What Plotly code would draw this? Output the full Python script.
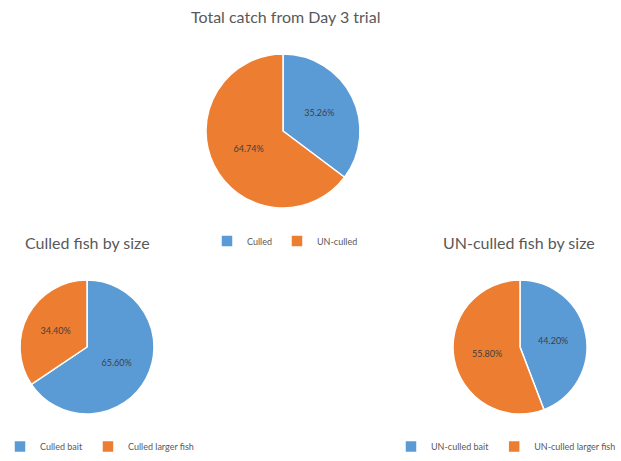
import plotly.graph_objects as go

# data
total_labels = ["Culled", "UN-culled"]
total_values = [35.26, 64.74]

culled_labels = ["Culled bait", "Culled larger fish"]
culled_values = [65.60, 34.40]

unculled_labels = ["UN-culled bait", "UN-culled larger fish"]
unculled_values = [44.20, 55.80]

colors = ["#5B9BD5", "#ED7D31"]
W, H = 621, 461
FONT = "Lato"
GREY = "#595959"


def px_dom(x0, x1, y0, y1):
    # pixel box -> paper domain
    return dict(x=[x0 / W, x1 / W], y=[1 - y1 / H, 1 - y0 / H])


def pie(labels, values, dom, legend):
    return go.Pie(labels=labels, values=values, domain=dom, legend=legend,
                  sort=False, direction="clockwise", rotation=0,
                  marker=dict(colors=colors, line=dict(color="white", width=1.5)),
                  texttemplate="%{percent:.2%}", textposition="inside",
                  insidetextorientation="horizontal",
                  insidetextfont=dict(size=9, color="#404040", family=FONT),
                  hoverinfo="label+percent")


fig = go.Figure()
fig.add_trace(pie(total_labels, total_values, px_dom(206, 360, 54, 208), "legend"))
fig.add_trace(pie(culled_labels, culled_values, px_dom(20, 154, 280, 414), "legend2"))
fig.add_trace(pie(unculled_labels, unculled_values, px_dom(453, 587, 280, 414), "legend3"))

leg = dict(orientation="h", font=dict(size=9, color=GREY, family=FONT),
           bgcolor="rgba(0,0,0,0)", itemwidth=30, tracegroupgap=0)


def title(text, x, y, size):
    return dict(text=text, x=x / W, y=1 - y / H, xref="paper", yref="paper",
                xanchor="center", yanchor="middle", showarrow=False,
                font=dict(size=size, color=GREY, family=FONT))


fig.update_layout(
    width=W, height=H, margin=dict(l=0, r=0, t=0, b=0),
    paper_bgcolor="white", plot_bgcolor="white",
    font=dict(family=FONT, color=GREY),
    legend=dict(leg, x=285 / W, y=1 - 241 / H, xanchor="center", yanchor="middle"),
    legend2=dict(leg, x=0, y=0, xanchor="left", yanchor="bottom"),
    legend3=dict(leg, x=1, y=0, xanchor="right", yanchor="bottom"),
    annotations=[
        title("Total catch from Day 3 trial", 285, 16, 16),
        title("Culled fish by size", 87, 242, 16),
        title("UN-culled fish by size", 519, 242, 16),
    ],
)

fig.write_html("out.html", config={"displayModeBar": False},
               post_script="document.body.style.margin='0';")
